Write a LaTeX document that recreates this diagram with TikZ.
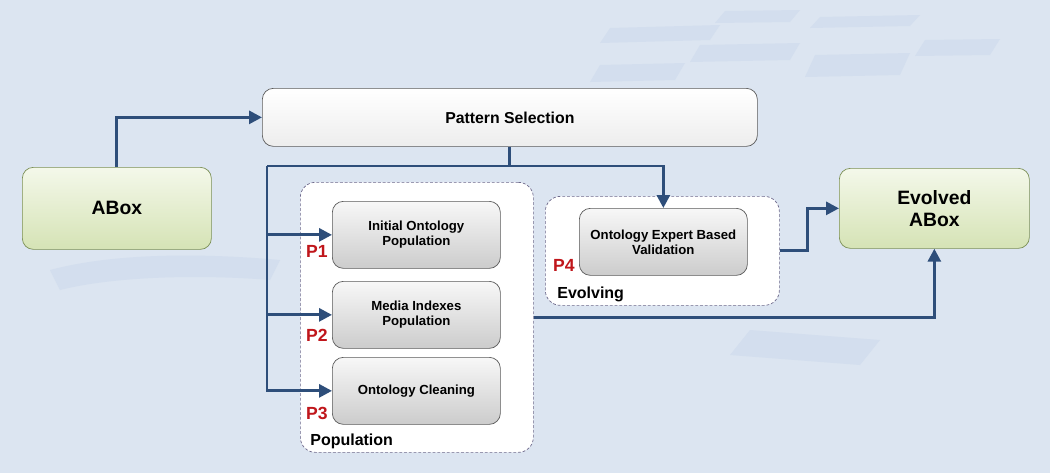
\documentclass[tikz,border=0pt]{standalone}
\usepackage{fontspec}
\setmainfont{Liberation Sans}
\usepackage{xcolor}
\usetikzlibrary{arrows.meta,shapes,fit,calc,positioning}

\definecolor{bgblue}{HTML}{DCE5F1}
\definecolor{bgtile}{HTML}{D3DEEE}
\definecolor{flowblue}{HTML}{2E4E7A}
\definecolor{pred}{HTML}{C0161B}
\definecolor{greenedge}{HTML}{7B8F55}
\definecolor{greentop}{HTML}{F4F8EA}
\definecolor{greenbot}{HTML}{D5E3B5}
\definecolor{grayedge}{HTML}{5A5A5A}
\definecolor{dashedge}{HTML}{6F6A8C}

\tikzset{
  >={Triangle[length=0.26cm,width=0.26cm]},
  flow/.style={->, line width=1.7pt, draw=flowblue},
  greenbox/.style={draw=greenedge, rounded corners=0.22cm, top color=greentop, bottom color=greenbot, align=center, font=\fontsize{11}{12.5}\selectfont\bfseries},
  headbox/.style={draw=grayedge, rounded corners=0.22cm, top color=white, bottom color=black!7, font=\fontsize{9}{10}\selectfont\bfseries},
  procbox/.style={draw=grayedge, rounded corners=0.22cm, top color=black!3, bottom color=black!20, align=center, minimum width=3.36cm, minimum height=1.34cm, font=\fontsize{7.5}{8.6}\selectfont\bfseries},
  groupbox/.style={draw=dashedge, dash pattern=on 1.6pt off 1.1pt, thin, fill=white, rounded corners=0.3cm},
  plabel/.style={text=pred, inner sep=0pt, font=\fontsize{10}{11}\selectfont\bfseries},
  grouplabel/.style={inner sep=0pt, anchor=south west, font=\fontsize{9.1}{10}\selectfont\bfseries}
}

\begin{document}
\begin{tikzpicture}

\fill[bgblue] (0,0) rectangle (21,-9.46);
\useasboundingbox (0,0) rectangle (21,-9.46);

% background tiles
\fill[bgtile] (12.2,-0.56) -- (14.4,-0.5) -- (14.2,-0.8) -- (12.0,-0.86) -- cycle;
\fill[bgtile] (14.5,-0.22) -- (16.0,-0.2) -- (15.8,-0.44) -- (14.3,-0.46) -- cycle;
\fill[bgtile] (16.4,-0.34) -- (18.4,-0.3) -- (18.2,-0.52) -- (16.2,-0.56) -- cycle;
\fill[bgtile] (14.0,-0.9) -- (16.0,-0.86) -- (15.8,-1.2) -- (13.8,-1.24) -- cycle;
\fill[bgtile] (16.3,-1.1) -- (18.2,-1.06) -- (18.0,-1.5) -- (16.1,-1.54) -- cycle;
\fill[bgtile] (18.5,-0.8) -- (20.0,-0.78) -- (19.8,-1.1) -- (18.3,-1.12) -- cycle;
\fill[bgtile] (12.0,-1.3) -- (13.7,-1.26) -- (13.5,-1.6) -- (11.8,-1.64) -- cycle;
\fill[bgtile] (15.0,-6.6) -- (17.6,-6.8) -- (17.2,-7.3) -- (14.6,-7.1) -- cycle;
\fill[bgtile] (1.0,-5.4) .. controls (2.5,-5.0) and (4.5,-5.1) .. (5.6,-5.2) -- (5.4,-5.6) .. controls (4.2,-5.5) and (2.4,-5.5) .. (1.2,-5.8) -- cycle;

\coordinate(O1) at (0.44,-3.34);
\node[below right=0cm of O1, greenbox, minimum width=3.78cm, minimum height=1.64cm](abox) {ABox};

\coordinate(O1) at (5.24,-1.76);
\node[below right=0cm of O1, headbox, minimum width=9.9cm, minimum height=1.16cm](pattern) {Pattern Selection};

\coordinate(O1) at (6.0,-3.64);
\node[below right=0cm of O1, groupbox, minimum width=4.66cm, minimum height=5.4cm](population) {};

\coordinate(O1) at (10.9,-3.92);
\node[below right=0cm of O1, groupbox, minimum width=4.68cm, minimum height=2.18cm](evolving) {};

\coordinate(O1) at (6.64,-4.02);
\node[below right=0cm of O1, procbox](box1) {Initial Ontology\\Population};
\coordinate(O1) at (6.64,-5.62);
\node[below right=0cm of O1, procbox](box2) {Media Indexes\\Population};
\coordinate(O1) at (6.64,-7.14);
\node[below right=0cm of O1, procbox](box3) {Ontology Cleaning};
\coordinate(O1) at (11.58,-4.16);
\node[below right=0cm of O1, procbox](box4) {Ontology Expert Based\\Validation};

\coordinate(O1) at (16.78,-3.36);
\node[below right=0cm of O1, greenbox, minimum width=3.8cm, minimum height=1.6cm](evolved) {Evolved\\ABox};

\node[plabel, anchor=south east] (p1) at ([xshift=-0.08cm,yshift=0.22cm]box1.south west) {P1};
\node[plabel, anchor=south east] (p2) at ([xshift=-0.08cm,yshift=0.14cm]box2.south west) {P2};
\node[plabel, anchor=south east] (p3) at ([xshift=-0.08cm,yshift=0.1cm]box3.south west) {P3};
\node[plabel, anchor=south east] (p4) at ([xshift=-0.08cm,yshift=0.08cm]box4.south west) {P4};

\node[grouplabel] (poplabel) at ([xshift=0.2cm,yshift=0.08cm]population.south west) {Population};
\node[grouplabel] (evolabel) at ([xshift=0.24cm,yshift=0.06cm]evolving.south west) {Evolving};

\coordinate (bus) at (5.34,-3.32);

\draw[flow] (abox.north) |- (pattern.west);
\draw[flow, -] (pattern.south) -- (pattern.south |- bus);
\draw[flow] (bus) -| (box4.north);
\draw[flow] (bus) |- (box3.west);
\draw[flow] (bus |- box1.west) -- (box1.west);
\draw[flow] (bus |- box2.west) -- (box2.west);
\draw[flow] (evolving.east) -- ++(0.56,0) |- (evolved.west);
\draw[flow] (population.east) -| (evolved.south);
\end{tikzpicture}
\end{document}
